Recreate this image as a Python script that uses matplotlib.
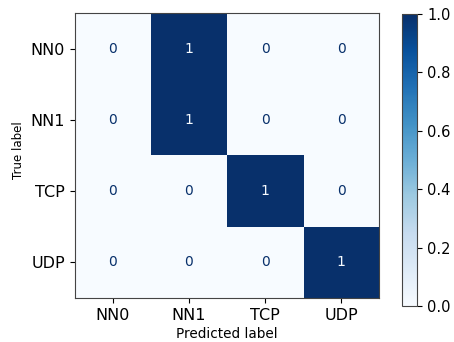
import matplotlib
matplotlib.use("Agg")
import matplotlib.pyplot as plt
import numpy as np

CLASSES = ["NN0", "NN1", "TCP", "UDP"]
ROW_NN0 = [0, 1, 0, 0]
ROW_NN1 = [0, 1, 0, 0]
ROW_TCP = [0, 0, 1, 0]
ROW_UDP = [0, 0, 0, 1]
CBAR_TICKS = [0.0, 0.2, 0.4, 0.6, 0.8, 1.0]


def main():
    cm = np.array([ROW_NN0, ROW_NN1, ROW_TCP, ROW_UDP])
    cmap = plt.get_cmap("Blues")

    fig = plt.figure(figsize=(4.54, 3.42), dpi=100, facecolor="white")
    ax = fig.add_axes([0.165, 0.129, 0.670, 0.833])
    cax = fig.add_axes([0.885, 0.105, 0.034, 0.854])

    im = ax.imshow(cm, cmap=cmap, vmin=0, vmax=1, aspect="auto", interpolation="nearest")

    # sklearn-style text colours: light text on dark cells, dark on light
    for i in range(cm.shape[0]):
        for j in range(cm.shape[1]):
            val = cm[i, j]
            color = cmap(0.0) if val > 0.5 else cmap(1.0)
            ax.text(j, i, f"{val}", ha="center", va="center", fontsize=10, color=color)

    ax.set_xticks(range(len(CLASSES)))
    ax.set_yticks(range(len(CLASSES)))
    ax.set_xticklabels(CLASSES, fontsize=11.5)
    ax.set_yticklabels(CLASSES, fontsize=11.5)
    ax.tick_params(length=3.5, width=0.8)
    ax.set_xlabel("Predicted label", fontsize=9.8, labelpad=3)
    ax.set_ylabel("True label", fontsize=8.5, labelpad=4)
    ax.yaxis.set_label_coords(-0.165, 0.52)
    for s in ax.spines.values():
        s.set_color("#444444")

    cb = fig.colorbar(im, cax=cax, ticks=CBAR_TICKS)
    cb.ax.set_yticklabels([f"{t:.1f}" for t in CBAR_TICKS], fontsize=10.5)
    cb.ax.tick_params(length=3.5, width=0.8)
    cb.outline.set_edgecolor("#444444")

    fig.savefig("out.png", dpi=100, facecolor="white")


if __name__ == "__main__":
    main()
